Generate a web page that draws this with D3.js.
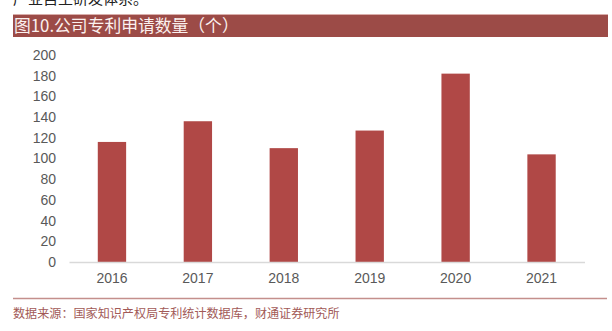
<!DOCTYPE html>
<html>
<head>
<meta charset="utf-8">
<script src="https://cdn.jsdelivr.net/npm/d3@7"></script>
<style>
  html, body { margin: 0; padding: 0; background: #fff; }
  svg { display: block; }
</style>
</head>
<body>
<svg id="chart" width="612" height="331"></svg>
<script>
// Patent applications per year
const years = ["2016", "2017", "2018", "2019", "2020", "2021"];
const applications = [116, 136, 110, 127, 182, 104];
const yTicks = [0, 20, 40, 60, 80, 100, 120, 140, 160, 180, 200];

const titleText = "图10.公司专利申请数量（个）";
const sourceText = "数据来源：国家知识产权局专利统计数据库，财通证券研究所";
const leadText = "产业自主研发体系。";

const svg = d3.select("#chart");
const cjk = "'Noto Sans CJK SC', 'Noto Sans', sans-serif";
const latin = "'Liberation Sans', Arial, sans-serif";

// tail of the preceding paragraph, running off the top edge
svg.append("text")
  .attr("x", 13).attr("y", 4)
  .attr("font-family", cjk).attr("font-size", 15)
  .attr("fill", "#222")
  .text(leadText);

// title bar
svg.append("rect")
  .attr("x", 13).attr("y", 14).attr("width", 595).attr("height", 23)
  .attr("fill", "#9c4b47");
svg.append("line")
  .attr("x1", 13).attr("x2", 608).attr("y1", 14.5).attr("y2", 14.5)
  .attr("stroke", "#d9aeab").attr("stroke-width", 1);
svg.append("text")
  .attr("x", 14).attr("y", 31.5)
  .attr("font-family", cjk).attr("font-size", 16.8)
  .attr("fill", "#fbf1ef")
  .text(titleText);

// plot area
const x = d3.scaleBand()
  .domain(years)
  .range([69, 584.5])
  .paddingInner(0.67)
  .paddingOuter(0.335);

const y = d3.scaleLinear()
  .domain([0, 200])
  .range([262, 55]);

// y axis labels
const yAxis = d3.axisLeft(y).tickValues(yTicks).tickSize(0).tickPadding(0);
const gy = svg.append("g").attr("transform", "translate(56,0)").call(yAxis);
gy.select(".domain").remove();
gy.selectAll("text")
  .attr("font-family", latin).attr("font-size", 14)
  .attr("fill", "#595959");

// bars
svg.append("g").selectAll("rect")
  .data(years.map((yr, i) => ({ yr, v: applications[i] })))
  .join("rect")
  .attr("x", d => x(d.yr))
  .attr("width", x.bandwidth())
  .attr("y", d => y(d.v))
  .attr("height", d => y(0) - y(d.v))
  .attr("fill", "#b04846");

// x axis
const xAxis = d3.axisBottom(x).tickSize(0).tickPadding(11);
const gx = svg.append("g").attr("transform", `translate(0,${y(0)})`).call(xAxis);
gx.select(".domain").attr("stroke", "#d9d9d9").attr("stroke-width", 1.5);
gx.selectAll("text")
  .attr("font-family", latin).attr("font-size", 14)
  .attr("fill", "#595959");

// source line and note
svg.append("line")
  .attr("x1", 13).attr("x2", 607).attr("y1", 298.5).attr("y2", 298.5)
  .attr("stroke", "#c48f8c").attr("stroke-width", 1.5);
svg.append("text")
  .attr("x", 13).attr("y", 317.5)
  .attr("font-family", cjk).attr("font-size", 12.1)
  .attr("fill", "#a25a57")
  .text(sourceText);
</script>
</body>
</html>
